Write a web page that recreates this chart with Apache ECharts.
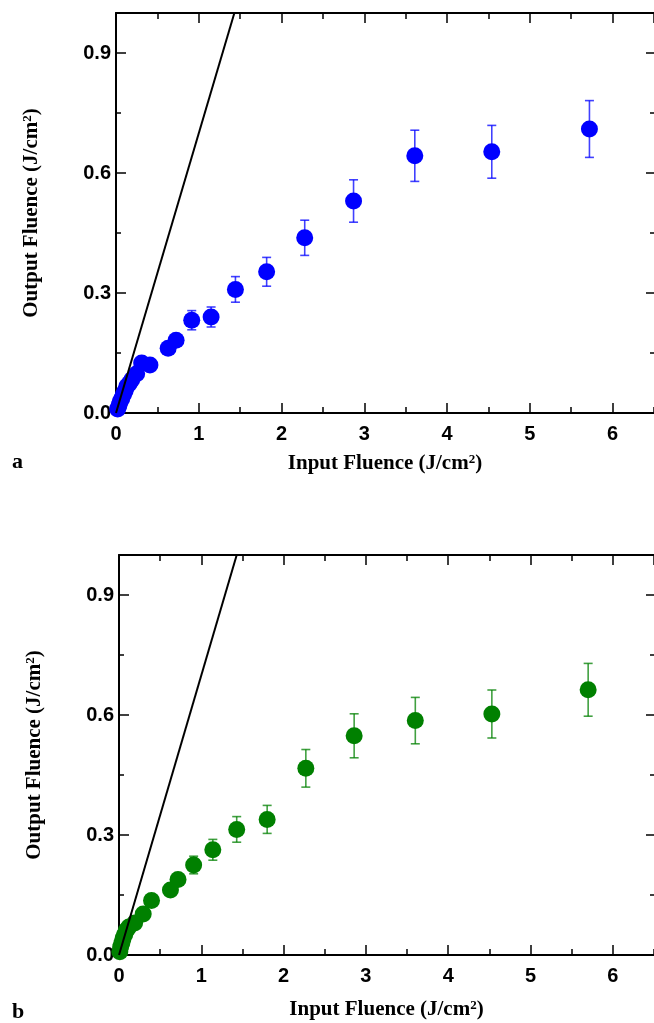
<!DOCTYPE html>
<html>
<head>
<meta charset="utf-8">
<script src="https://cdn.jsdelivr.net/npm/echarts@6/dist/echarts.min.js"></script>
<style>
html,body{margin:0;padding:0;background:#fff;}
#chart{width:654px;height:1023px;}
</style>
</head>
<body>
<div id="chart"></div>
<script>
// Panel a (blue)
const xA = [0.02, 0.035, 0.05, 0.07, 0.09, 0.11, 0.13, 0.16, 0.19, 0.25, 0.31, 0.41, 0.63, 0.726, 0.915, 1.149, 1.443, 1.82, 2.28, 2.87, 3.61, 4.54, 5.72];
const yA = [0.01, 0.018, 0.028, 0.036, 0.047, 0.055, 0.066, 0.074, 0.083, 0.098, 0.125, 0.12, 0.162, 0.182, 0.232, 0.24, 0.309, 0.353, 0.438, 0.53, 0.643, 0.653, 0.71];
const eA = [0.002, 0.003, 0.004, 0.004, 0.005, 0.005, 0.006, 0.006, 0.007, 0.008, 0.009, 0.009, 0.01, 0.012, 0.024, 0.025, 0.032, 0.036, 0.044, 0.053, 0.064, 0.066, 0.071];
// Panel b (green)
const xB = [0.01, 0.02, 0.035, 0.05, 0.07, 0.09, 0.12, 0.19, 0.294, 0.395, 0.625, 0.717, 0.907, 1.14, 1.43, 1.80, 2.27, 2.857, 3.6, 4.53, 5.70];
const yB = [0.008, 0.02, 0.03, 0.042, 0.052, 0.062, 0.07, 0.08, 0.1025, 0.136, 0.1625, 0.189, 0.225, 0.263, 0.314, 0.339, 0.4667, 0.548, 0.586, 0.6025, 0.663];
const eB = [0.002, 0.003, 0.004, 0.004, 0.005, 0.005, 0.006, 0.007, 0.008, 0.01, 0.012, 0.014, 0.022, 0.026, 0.032, 0.035, 0.047, 0.055, 0.058, 0.06, 0.066];
// Linear reference lines
const refX = [0, 1.43];
const refY = [0, 1.0];
// Axis settings
const xMin = 0, xMax = 6.5, xMajor = 1, xMinor = 0.5;
const yMin = 0, yMax = 1.0, yMajor = 0.3, yMinor = 0.15;
const xTitle = 'Input Fluence (J/cm{sup|2})';
const yTitle = 'Output Fluence (J/cm{sup|2})';
const panelLabels = ['a', 'b'];

const BLUE = '#0000ff', GREEN = '#008000';
const chart = echarts.init(document.getElementById('chart'), null, {renderer: 'canvas'});

const tickFont = {fontFamily: 'Liberation Sans', fontWeight: 'bold', fontSize: 20, color: '#000'};
const titleFont = {fontFamily: 'Liberation Serif', fontWeight: 'bold', fontSize: 21, color: '#000',
  rich: {sup: {fontFamily: 'Liberation Serif', fontWeight: 'bold', fontSize: 13, verticalAlign: 'top', color: '#000'}}};

const grids = [
  {left: 116, top: 13, width: 539, height: 400},
  {left: 119, top: 555, width: 539, height: 400}
];
const xNameGap = [40, 44];

const xAxes = [], yAxes = [];
const noLine = {show: false, onZero: false};
grids.forEach((g, gi) => {
  const baseX = {gridIndex: gi, type: 'value', min: xMin, max: xMax, splitLine: {show: false}};
  const baseY = {gridIndex: gi, type: 'value', min: yMin, max: yMax, splitLine: {show: false}};
  const line = {show: true, onZero: false, lineStyle: {color: '#000', width: 2}};
  xAxes.push(Object.assign({}, baseX, {
    position: 'bottom', interval: xMajor, axisLine: line,
    axisTick: {show: true, inside: true, length: 10, lineStyle: {color: '#000', width: 1.5}},
    axisLabel: Object.assign({show: true, margin: 11, showMaxLabel: false,
      formatter: v => (Math.abs(v - Math.round(v)) < 1e-9 ? String(Math.round(v)) : '')}, tickFont),
    name: xTitle, nameLocation: 'middle', nameGap: xNameGap[gi], nameTextStyle: titleFont
  }));
  xAxes.push(Object.assign({}, baseX, {
    position: 'bottom', interval: xMinor, axisLine: noLine,
    axisTick: {show: true, inside: true, length: 6, lineStyle: {color: '#000', width: 1.5}},
    axisLabel: {show: false}
  }));
  xAxes.push(Object.assign({}, baseX, {
    position: 'top', interval: xMajor, axisLine: line,
    axisTick: {show: true, inside: true, length: 10, lineStyle: {color: '#000', width: 1.5}},
    axisLabel: {show: false}
  }));
  xAxes.push(Object.assign({}, baseX, {
    position: 'top', interval: xMinor, axisLine: noLine,
    axisTick: {show: true, inside: true, length: 6, lineStyle: {color: '#000', width: 1.5}},
    axisLabel: {show: false}
  }));
  yAxes.push(Object.assign({}, baseY, {
    position: 'left', interval: yMajor, axisLine: line,
    axisTick: {show: true, inside: true, length: 10, lineStyle: {color: '#000', width: 1.5}},
    axisLabel: Object.assign({show: true, margin: 5,
      formatter: v => (v > 0.95 ? '' : v.toFixed(1))}, tickFont),
    name: yTitle, nameLocation: 'middle', nameGap: 74, nameRotate: 90, nameTextStyle: titleFont
  }));
  yAxes.push(Object.assign({}, baseY, {
    position: 'left', interval: yMinor, axisLine: noLine,
    axisTick: {show: true, inside: true, length: 5, lineStyle: {color: '#000', width: 1.5}},
    axisLabel: {show: false}
  }));
  yAxes.push(Object.assign({}, baseY, {
    position: 'right', interval: yMajor, axisLine: noLine,
    axisTick: {show: true, inside: true, length: 8, lineStyle: {color: '#000', width: 1.5}},
    axisLabel: {show: false}
  }));
  yAxes.push(Object.assign({}, baseY, {
    position: 'right', interval: yMinor, axisLine: noLine,
    axisTick: {show: true, inside: true, length: 4, lineStyle: {color: '#000', width: 1.5}},
    axisLabel: {show: false}
  }));
});

function errData(xs, ys, es) {
  return xs.map((x, i) => [x, ys[i] - es[i], ys[i] + es[i]]);
}
function pts(xs, ys) { return xs.map((x, i) => [x, ys[i]]); }

function errSeries(gi, data, color) {
  return {
    type: 'custom', xAxisIndex: gi * 4, yAxisIndex: gi * 4, z: 2,
    encode: {x: 0, y: [1, 2]},
    data: data,
    renderItem: function (params, api) {
      const x = api.value(0);
      const lo = api.coord([x, api.value(1)]);
      const hi = api.coord([x, api.value(2)]);
      const cap = 4.5;
      const style = {stroke: color, lineWidth: 1.6, opacity: 0.75};
      return {
        type: 'group',
        children: [
          {type: 'line', shape: {x1: lo[0], y1: lo[1], x2: hi[0], y2: hi[1]}, style: style},
          {type: 'line', shape: {x1: lo[0] - cap, y1: lo[1], x2: lo[0] + cap, y2: lo[1]}, style: style},
          {type: 'line', shape: {x1: hi[0] - cap, y1: hi[1], x2: hi[0] + cap, y2: hi[1]}, style: style}
        ]
      };
    }
  };
}
function scatterSeries(gi, data, color) {
  return {
    type: 'scatter', xAxisIndex: gi * 4, yAxisIndex: gi * 4, z: 3,
    symbol: 'circle', symbolSize: 17, data: data,
    itemStyle: {color: color, opacity: 1}, silent: true
  };
}
function refSeries(gi) {
  return {
    type: 'line', xAxisIndex: gi * 4, yAxisIndex: gi * 4, z: 4,
    data: pts(refX, refY), symbol: 'none', clip: true,
    lineStyle: {color: '#000', width: 2}, silent: true, animation: false
  };
}

const option = {
  backgroundColor: '#fff',
  animation: false,
  grid: grids,
  xAxis: xAxes,
  yAxis: yAxes,
  graphic: [
    {type: 'text', left: 12, top: 451, style: {text: panelLabels[0], fill: '#000', font: 'bold 22px "Liberation Serif"'}},
    {type: 'text', left: 12, top: 1001, style: {text: panelLabels[1], fill: '#000', font: 'bold 22px "Liberation Serif"'}}
  ],
  series: [
    errSeries(0, errData(xA, yA, eA), BLUE),
    scatterSeries(0, pts(xA, yA), BLUE),
    refSeries(0),
    errSeries(1, errData(xB, yB, eB), GREEN),
    scatterSeries(1, pts(xB, yB), GREEN),
    refSeries(1)
  ]
};
chart.setOption(option);
</script>
</body>
</html>
